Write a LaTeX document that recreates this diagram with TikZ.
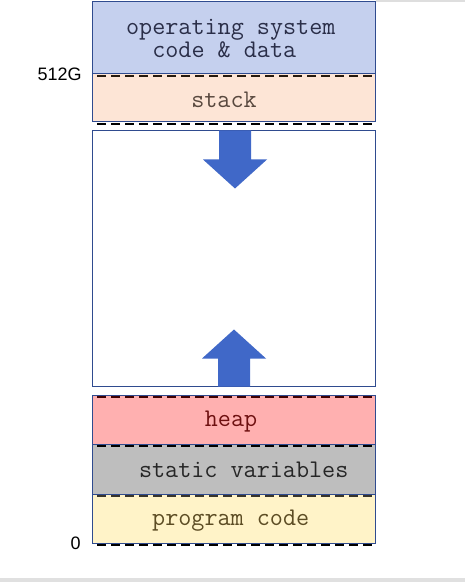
\documentclass[tikz,border=0pt]{standalone}
\usepackage{fontspec}
\setmainfont{Liberation Sans}
\newfontfamily\memfont{Latin Modern Mono}
\definecolor{edge}{RGB}{47,75,143}
\definecolor{osfill}{RGB}{197,208,238}
\definecolor{stackfill}{RGB}{253,229,214}
\definecolor{heapfill}{RGB}{255,176,176}
\definecolor{staticfill}{RGB}{190,190,190}
\definecolor{codefill}{RGB}{255,243,200}
\definecolor{growth}{RGB}{64,104,200}
\definecolor{ostext}{RGB}{42,46,72}
\definecolor{stacktext}{RGB}{88,72,62}
\definecolor{heaptext}{RGB}{110,16,16}
\definecolor{codetext}{RGB}{92,76,36}
\tikzset{
  region/.style={draw=edge,line width=.5pt},
  border/.style={dash pattern=on 4.25pt off 2.75pt,line width=1pt},
  memtext/.style={font=\memfont\fontsize{12.7}{11.5}\selectfont,inner sep=0pt},
  addr/.style={font=\fontsize{9}{10}\selectfont,anchor=east,inner sep=0pt}
}
\begin{document}
\begin{tikzpicture}[x=.5pt,y=-.5pt]
  \useasboundingbox(0,0) rectangle(465,582);
  \fill[black!12](0,578) rectangle(465,582);
  \draw[black!13,line width=1pt](376,1)--(465,1);
  % memory regions, top to bottom
  \draw[region,fill=osfill](92.5,1.5) rectangle(375.5,73.5);
  \draw[region,fill=stackfill](92.5,73.5) rectangle(375.5,122);
  \draw[region,fill=white](92.5,130.5) rectangle(375.5,386.5);
  \draw[region,fill=heapfill](92.5,395.5) rectangle(375.5,444.5);
  \draw[region,fill=staticfill](92.5,444.5) rectangle(375.5,494.5);
  \draw[region,fill=codefill](92.5,494.5) rectangle(375.5,543.5);
  % boundaries
  \draw[border,black!80!brown](97,76)--(377,76);
  \draw[border,black](97,124.5)--(377,124.5);
  \draw[border,black!75!red](97,397)--(377,397);
  \draw[border,black](97,446)--(377,446);
  \draw[border,black!80!olive](97,496)--(377,496);
  \draw[border,black](97,545)--(377,545);
  % growth arrows
  \fill[growth](219,130.5)--(251,130.5)--(251,159.5)--(267,159.5)--(235,188.5)
    --(203,159.5)--(219,159.5)--cycle;
  \fill[growth](218,386.5)--(250,386.5)--(250,358.5)--(266,358.5)--(234,329.5)
    --(202,358.5)--(218,358.5)--cycle;
  % labels
  \node[memtext,text=ostext,align=center] (os) at(230.8,38.5)
    {operating system\\code \& data\hphantom{x}};
  \node[memtext,text=stacktext] (stack) at(224,100){stack};
  \node[memtext,text=heaptext] (heap) at(231,422){heap};
  \node[memtext,text=black!85] (static) at(243.7,469.5){static variables};
  \node[memtext,text=codetext] (code) at(230.7,520.5){program code};
  \node[addr] (top) at(82,74){512G};
  \node[addr] (zero) at(81,543){0};
\end{tikzpicture}
\end{document}
